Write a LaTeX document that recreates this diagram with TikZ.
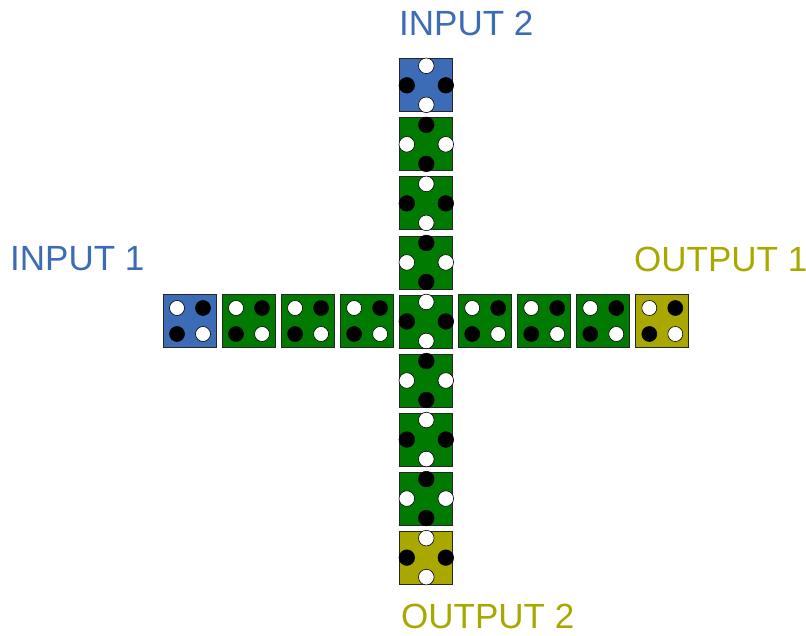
\documentclass[tikz,border=0pt]{standalone}
\usepackage{fontspec}
\setmainfont{Liberation Sans}
\definecolor{cblue}{RGB}{60,108,182}
\definecolor{cgreen}{RGB}{0,122,0}
\definecolor{colive}{RGB}{168,168,0}
\begin{document}
\begin{tikzpicture}[x=1pt,y=-1pt,
  cell/.style={draw=black!85, line width=0.8pt, minimum size=53pt, inner sep=0pt, outer sep=0pt},
  wdot/.style={fill=white, draw=black, line width=0.6pt},
  bdot/.style={fill=black, draw=black, line width=0.6pt},
  lbl/.style={font=\fontsize{35}{35}\selectfont, anchor=base west, inner sep=0pt}]
\useasboundingbox (0,0) rectangle (806,636);
% horizontal row (corner pattern)
\foreach \i/\c in {1/cblue,2/cgreen,3/cgreen,4/cgreen,6/cgreen,7/cgreen,8/cgreen,9/colive}{
  \node[cell, fill=\c] (h\i) at ({190+59.04*(\i-1)},321) {};
  \draw[wdot] ([shift={(-13,-13)}]h\i.center) circle (7.5);
  \draw[bdot] ([shift={(13,-13)}]h\i.center) circle (7.5);
  \draw[bdot] ([shift={(-13,13)}]h\i.center) circle (7.5);
  \draw[wdot] ([shift={(13,13)}]h\i.center) circle (7.5);
}
% vertical column (diamond pattern)
\foreach \j/\c/\a/\b in {1/cblue/wdot/bdot,2/cgreen/bdot/wdot,3/cgreen/wdot/bdot,4/cgreen/bdot/wdot,5/cgreen/wdot/bdot,6/cgreen/bdot/wdot,7/cgreen/wdot/bdot,8/cgreen/bdot/wdot,9/colive/wdot/bdot}{
  \node[cell, fill=\c] (v\j) at (426.3,{85.3+59.04*(\j-1)}) {};
  \draw[\a] ([shift={(0,-19.5)}]v\j.center) circle (7.8);
  \draw[\a] ([shift={(0,19.5)}]v\j.center) circle (7.8);
  \draw[\b] ([shift={(-19.5,0)}]v\j.center) circle (7.8);
  \draw[\b] ([shift={(19.5,0)}]v\j.center) circle (7.8);
}
% labels
\node[lbl, text=cblue] (in2) at (399,36) {INPUT 2};
\node[lbl, text=cblue] (in1) at (10,271) {INPUT 1};
\node[lbl, text=colive] (out1) at (634,272) {OUTPUT 1};
\node[lbl, text=colive] (out2) at (401,628) {OUTPUT 2};
\end{tikzpicture}
\end{document}
